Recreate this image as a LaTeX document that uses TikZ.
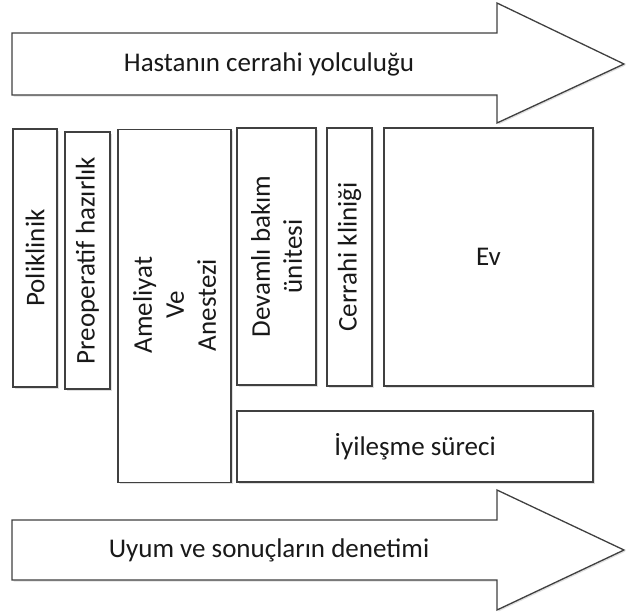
\documentclass[tikz,border=0pt]{standalone}
\usepackage{fontspec}
\setmainfont{Carlito}
\usetikzlibrary{shadows}
\begin{document}
\begin{tikzpicture}[x=1pt,y=-1pt,
  box/.style={draw=black!75, line width=1.3pt, fill=white, inner sep=0pt,
    drop shadow={shadow xshift=1.5pt, shadow yshift=-1.5pt, opacity=0.25}},
  arr/.style={draw=black!75, line width=1.3pt, fill=white, line join=miter,
    drop shadow={shadow xshift=1.5pt, shadow yshift=-1.5pt, opacity=0.25}},
  lbl/.style={font=\fontsize{27}{32}\selectfont, text=black!90, align=center, inner sep=0pt},
  vlbl/.style={lbl, rotate=90}]
\useasboundingbox (0,0) rectangle (627,616);
% top arrow
\path[arr] (12,33) -- (497,33) -- (497,3) -- (624,64) -- (497,123) -- (497,95) -- (12,95) -- cycle;
\node[lbl] (top) at (269,64) {Hastanın cerrahi yolculuğu};
% boxes
\node[box, minimum width=44pt, minimum height=258pt] (pol) at (35,258) {};
\node[vlbl] at (pol) {Poliklinik};
\node[box, minimum width=45pt, minimum height=257pt] (pre) at (87.5,260.5) {};
\node[vlbl] at (pre) {Preoperatif hazırlık};
\node[box, minimum width=113pt, minimum height=353pt] (ame) at (174.5,306) {};
\node[vlbl] at ([yshift=1pt]ame.center) {Ameliyat\\Ve\\Anestezi};
\node[box, minimum width=79pt, minimum height=257pt] (dev) at (276.5,256.5) {};
\node[vlbl] at (dev) {Devamlı bakım\\ünitesi};
\node[box, minimum width=45pt, minimum height=258pt] (cer) at (349.5,257) {};
\node[vlbl] at (cer) {Cerrahi kliniği};
\node[box, minimum width=209pt, minimum height=258pt] (ev) at (488.5,257) {};
\node[lbl] at (ev) {Ev};
\node[box, minimum width=356pt, minimum height=71pt] (iyi) at (415,446.5) {};
\node[lbl] at (iyi) {İyileşme süreci};
% bottom arrow
\path[arr] (12,520) -- (497,520) -- (497,490) -- (624,550) -- (497,610) -- (497,580) -- (12,580) -- cycle;
\node[lbl] (bot) at (269,550) {Uyum ve sonuçların denetimi};
\end{tikzpicture}
\end{document}
